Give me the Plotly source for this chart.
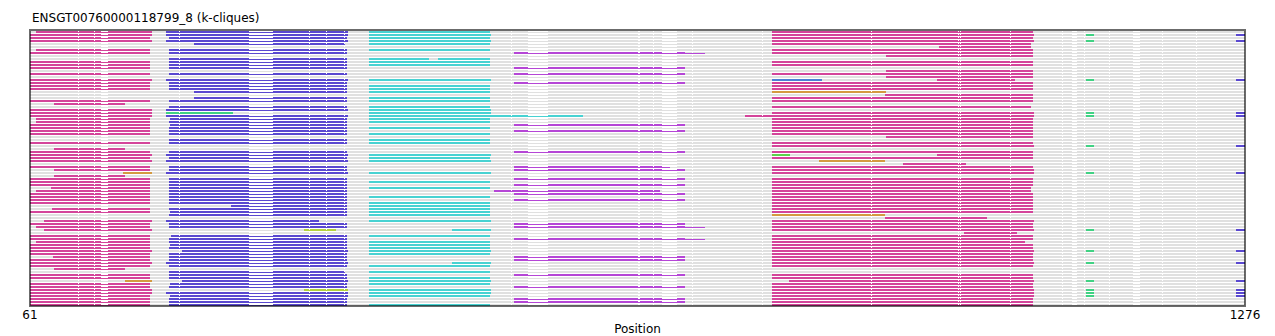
import plotly.graph_objects as go

# ---------------- data ----------------
N_ROWS = 92
POS_MIN, POS_MAX = 61, 1276
tick_vals = [61, 1276]
tick_text = ["61", "1276"]
title_text = "ENSGT00760000118799_8 (k-cliques)"
x_label = "Position"

# alignment gap columns (drawn as thin line)
gap_start = [109, 125, 132, 210, 280, 340, 357, 375, 542, 559, 669, 684, 693, 723,
             793, 902, 989, 991, 1041, 1093, 1103, 1115, 1140, 1164, 1193, 1227]
gap_end = [110, 126, 139, 211, 304, 341, 358, 376, 543, 579, 671, 685, 708, 724,
           794, 903, 990, 992, 1042, 1094, 1108, 1116, 1141, 1171, 1194, 1228]

# pink block 1
p1_rows = [0, 1, 2, 3, 6, 7, 10, 11, 12, 14,
           16, 17, 18, 19, 23, 24, 26, 27, 28, 29,
           30, 31, 32, 33, 34, 37, 39, 40, 41, 42,
           43, 45, 46, 48, 49, 50, 51, 52, 53, 54,
           55, 56, 57, 59, 60, 63, 64, 65, 66, 68,
           69, 70, 71, 72, 73, 74, 75, 76, 77, 78,
           79, 81, 82, 84, 85, 86, 87, 88, 89, 90, 91]
p1_start = [67, 61, 61, 61, 67, 61, 61, 61, 61, 61,
            61, 61, 61, 61, 61, 85, 61, 61, 61, 67,
            67, 61, 61, 61, 61, 61, 85, 61, 61, 61,
            61, 61, 85, 85, 61, 61, 61, 82, 67, 61,
            61, 61, 61, 83, 61, 75, 61, 67, 75, 61,
            61, 67, 61, 61, 61, 61, 84, 61, 61, 61,
            85, 61, 61, 61, 61, 61, 61, 61, 61, 61, 61]
p1_end = [183, 183, 181, 183, 181, 181, 181, 181, 181, 181,
          183, 181, 181, 181, 181, 156, 183, 183, 183, 181,
          181, 181, 181, 181, 181, 181, 156, 181, 183, 181,
          183, 181, 181, 156, 181, 181, 181, 181, 181, 181,
          181, 181, 181, 181, 181, 183, 181, 181, 183, 181,
          181, 181, 181, 181, 183, 181, 181, 181, 183, 181,
          156, 181, 181, 181, 181, 183, 183, 181, 181, 181, 181]

# blue block 1
b1_rows = [0, 1, 2, 3, 4, 6, 7, 9, 10, 11,
           12, 14, 16, 17, 18, 19, 20, 22, 23, 25,
           26, 28, 29, 30, 31, 32, 33, 34, 36, 37,
           40, 41, 42, 43, 45, 46, 47, 49, 50, 51,
           52, 53, 54, 55, 56, 57, 58, 59, 60, 61,
           63, 64, 65, 68, 69, 70, 71, 72, 73, 74,
           75, 76, 77, 78, 80, 81, 82, 83, 84, 85,
           87, 88, 89, 90, 91]
b1_start = [197, 197, 200, 197, 225, 200, 200, 200, 200, 200,
            200, 200, 197, 200, 200, 200, 225, 225, 200, 200,
            197, 197, 201, 200, 201, 200, 200, 200, 200, 200,
            200, 197, 200, 197, 200, 200, 197, 200, 200, 200,
            200, 200, 200, 200, 200, 200, 262, 200, 201, 200,
            197, 200, 200, 202, 200, 200, 201, 200, 213, 200,
            200, 200, 197, 200, 200, 200, 200, 213, 201, 200,
            197, 201, 200, 200, 200]
b1_end = [379, 379, 378, 379, 376, 378, 378, 378, 378, 378,
          378, 378, 379, 378, 378, 378, 378, 378, 378, 378,
          379, 379, 378, 378, 378, 378, 378, 378, 378, 378,
          378, 379, 378, 379, 378, 378, 379, 378, 378, 378,
          378, 378, 378, 378, 378, 378, 378, 378, 378, 378,
          350, 378, 378, 378, 378, 378, 378, 378, 379, 378,
          378, 378, 379, 378, 376, 378, 378, 379, 378, 378,
          379, 379, 378, 378, 378]

# cyan block
c1_rows = [0, 1, 2, 3, 4, 6, 9, 9, 10, 11,
           16, 18, 19, 20, 22, 23, 25, 26, 27, 28,
           29, 30, 32, 34, 36, 37, 41, 42, 43, 47,
           50, 52, 55, 57, 58, 59, 60, 61, 63, 66,
           68, 70, 71, 72, 73, 74, 77, 78, 80, 82,
           83, 84, 86, 87, 88, 91]
c1_start = [400, 400, 400, 400, 400, 400, 400, 469, 400, 400,
            400, 400, 400, 400, 400, 400, 400, 400, 400, 400,
            400, 400, 400, 400, 400, 400, 400, 400, 400, 400,
            400, 400, 400, 400, 400, 400, 400, 400, 400, 483,
            400, 400, 400, 400, 400, 400, 483, 400, 400, 400,
            400, 400, 400, 400, 400, 400]
c1_end = [521, 522, 521, 522, 521, 521, 460, 521, 521, 521,
          522, 521, 521, 521, 521, 521, 521, 522, 522, 614,
          521, 521, 521, 521, 521, 521, 522, 521, 522, 522,
          521, 521, 521, 521, 521, 521, 521, 521, 522, 522,
          521, 521, 521, 521, 522, 521, 522, 521, 521, 521,
          522, 521, 522, 522, 521, 521]

# purple block
u1_rows = [7, 12, 14, 17, 31, 33, 40, 45, 46, 49,
           51, 53, 54, 56, 64, 65, 69, 75, 76, 81,
           85, 89, 90]
u1_start = [545, 545, 545, 545, 545, 545, 545, 545, 545, 545,
            545, 525, 545, 545, 545, 545, 545, 545, 545, 545,
            545, 545, 545]
u1_end = [716, 716, 716, 716, 716, 716, 716, 701, 716, 716,
          716, 691, 716, 716, 716, 716, 716, 716, 716, 716,
          716, 716, 716]
u1_tail_rows = [7, 65, 69]
u1_tail_start = [708, 708, 708]
u1_tail_end = [736, 736, 736]

# pink block 2
p2_rows = [0, 1, 2, 3, 4, 5, 6, 7, 8, 10,
           11, 13, 14, 15, 16, 17, 18, 19, 21, 22,
           23, 25, 27, 28, 29, 30, 31, 32, 33, 34,
           35, 37, 38, 40, 41, 42, 44, 45, 46, 47,
           49, 50, 51, 52, 53, 54, 55, 56, 57, 58,
           59, 60, 62, 63, 64, 65, 66, 67, 68, 69,
           70, 71, 72, 73, 74, 75, 76, 77, 78, 81,
           82, 83, 84, 85, 86, 87, 88, 89, 90, 91]
p2_start = [803, 803, 803, 803, 803, 970, 803, 803, 917, 803,
            803, 917, 803, 917, 968, 803, 803, 803, 916, 803,
            803, 803, 803, 776, 803, 803, 803, 803, 803, 803,
            917, 803, 803, 803, 968, 803, 934, 803, 803, 803,
            803, 803, 803, 803, 803, 803, 803, 803, 803, 803,
            803, 803, 916, 803, 803, 803, 803, 995, 803, 803,
            803, 803, 803, 803, 803, 803, 803, 803, 803, 803,
            803, 820, 803, 803, 803, 803, 803, 803, 803, 803]
p2_end = [1064, 1065, 1064, 1065, 1062, 1062, 1064, 1064, 1064, 1064,
          1064, 1064, 1064, 1064, 1046, 1064, 1064, 1064, 1064, 1064,
          1064, 1062, 1065, 1065, 1064, 1064, 1064, 1064, 1064, 1064,
          1064, 1064, 1065, 1064, 1064, 1064, 997, 1064, 1065, 1065,
          1064, 1064, 1064, 1062, 1062, 1064, 1064, 1064, 1064, 1064,
          1064, 1064, 1018, 1065, 1064, 1064, 1065, 1048, 1064, 1064,
          1056, 1064, 1064, 1065, 1064, 1064, 1064, 1065, 1064, 1064,
          1064, 1065, 1064, 1064, 1065, 1065, 1065, 1064, 1064, 1064]

# small end blocks
g1_rows = [1, 3, 16, 27, 28, 38, 47, 66, 73, 77, 83, 86, 87, 88]
g1_start = [1117] * 14
g1_end = [1125] * 14
b2_rows = [1, 3, 16, 27, 28, 38, 47, 66, 73, 77, 83, 86, 87, 88]
b2_start = [1267] * 14
b2_end = [1276] * 14

# odd singletons
orange_rows = [20, 43, 47, 61, 83]
orange_start = [803, 850, 154, 803, 156]
orange_end = [917, 916, 183, 916, 183]
ygreen_rows = [66, 86]
ygreen_start = [335, 335]
ygreen_end = [367, 379]
green_rows = [27]
green_start = [197]
green_end = [264]
lime_rows = [41]
lime_start = [803]
lime_end = [821]
steel_rows = [16]
steel_start = [803]
steel_end = [853]

# colours
GREY = "#e0e0e0"
PINK = "#d4449a"
BLUE = "#5a48d0"
CYAN = "#48d2d2"
PURPLE = "#b546d6"
GREEN = "#40d283"
ORANGE = "#d49a40"
YGREEN = "#b6d23c"
LIME = "#5cd34c"
STEEL = "#4a80d6"

# ---------------- build ----------------
gaps = sorted(zip(gap_start, gap_end))


def solid_parts(a, b):
    parts, cur = [], a
    for g0, g1 in gaps:
        if g1 <= cur or g0 >= b:
            continue
        if g0 > cur:
            parts.append((cur, g0))
        cur = max(cur, g1)
    if cur < b:
        parts.append((cur, b))
    return parts


THIN_OFF = 1.0 / 6.0
fig = go.Figure()


def add_family(rows, starts, ends, color, thin_only=False):
    tx, ty, kx, ky = [], [], [], []
    for r, a, b in zip(rows, starts, ends):
        tx += [a, b, None]
        ty += [r + THIN_OFF, r + THIN_OFF, None]
        if not thin_only:
            for s, e in solid_parts(a, b):
                kx += [s, e, None]
                ky += [r, r, None]
    fig.add_trace(go.Scatter(x=tx, y=ty, mode="lines", line=dict(color=color, width=1),
                             hoverinfo="skip", showlegend=False))
    if kx:
        fig.add_trace(go.Scatter(x=kx, y=ky, mode="lines", line=dict(color=color, width=2),
                                 hoverinfo="skip", showlegend=False))


all_rows = list(range(N_ROWS))
add_family(all_rows, [POS_MIN] * N_ROWS, [POS_MAX] * N_ROWS, GREY)
add_family(p1_rows, p1_start, p1_end, PINK)
add_family(b1_rows, b1_start, b1_end, BLUE)
add_family(c1_rows, c1_start, c1_end, CYAN)
add_family(u1_rows, u1_start, u1_end, PURPLE)
add_family(u1_tail_rows, u1_tail_start, u1_tail_end, PURPLE, thin_only=True)
add_family(p2_rows, p2_start, p2_end, PINK)
add_family(g1_rows, g1_start, g1_end, GREEN)
add_family(b2_rows, b2_start, b2_end, BLUE)
add_family(orange_rows, orange_start, orange_end, ORANGE)
add_family(ygreen_rows, ygreen_start, ygreen_end, YGREEN)
add_family(green_rows, green_start, green_end, GREEN)
add_family(lime_rows, lime_start, lime_end, LIME)
add_family(steel_rows, steel_start, steel_end, STEEL)

FONT = "DejaVu Sans"
fig.update_layout(
    width=1275, height=336,
    margin=dict(l=30, r=30, t=30, b=30, autoexpand=False),
    paper_bgcolor="white", plot_bgcolor="white",
    font=dict(family=FONT, size=12, color="#000000"),
    showlegend=False,
    xaxis=dict(range=[POS_MIN, POS_MAX], showgrid=False, zeroline=False,
               tickvals=tick_vals, ticktext=tick_text, ticks="", automargin=False,
               tickfont=dict(family=FONT, size=12, color="#000000"),
               title=dict(text=x_label, font=dict(family=FONT, size=12, color="#000000"), standoff=4),
               showline=False),
    yaxis=dict(range=[N_ROWS - 1 + 1.0 / 3.0, -2.0 / 3.0], showgrid=False, zeroline=False,
               showticklabels=False, ticks="", showline=False, automargin=False),
    shapes=[dict(type="rect", xref="paper", yref="paper", x0=0, x1=1, y0=0, y1=1,
                 line=dict(color="rgba(0,0,0,0.58)", width=2), layer="above")],
    annotations=[dict(text=title_text, xref="paper", yref="paper", x=0, y=1,
                      xanchor="left", yanchor="middle", yshift=12, showarrow=False,
                      font=dict(family=FONT, size=12, color="#000000"))],
)

fig.write_html("out.html")
